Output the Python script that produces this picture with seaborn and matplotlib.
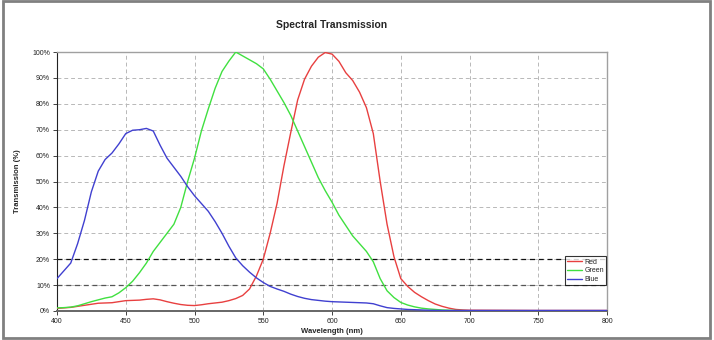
import numpy as np
import pandas as pd
import matplotlib
matplotlib.use("Agg")
import matplotlib.pyplot as plt
import seaborn as sns
from matplotlib.patches import Rectangle
from matplotlib.ticker import PercentFormatter

# wavelength (nm) and transmission (%)
wavelength = list(range(400, 705, 5)) + [750, 800]

red = [1.0, 1.2, 1.4, 1.8, 2.2, 2.6, 3.0, 3.1, 3.2, 3.6, 4.0, 4.1, 4.2, 4.5, 4.7, 4.3,
       3.6, 3.0, 2.5, 2.2, 2.1, 2.4, 2.8, 3.1, 3.4, 4.0, 4.8, 6.0, 8.5, 13.5, 20.0,
       30.0, 41.5, 56.0, 69.0, 81.5, 89.5, 94.5, 98.0, 99.8, 99.2, 96.4, 92.0, 89.0,
       84.5, 78.5, 68.5, 50.0, 33.5, 21.0, 12.5, 9.5, 7.2, 5.5, 4.0, 2.7, 1.8, 1.1,
       0.6, 0.4, 0.3, 0.2, 0.2]

green = [1.2, 1.3, 1.5, 2.0, 2.8, 3.6, 4.3, 5.0, 5.5, 7.0, 9.0, 11.5, 14.8, 18.5, 23.0,
         26.5, 30.0, 33.5, 40.0, 50.0, 59.0, 69.5, 78.0, 86.0, 92.5, 96.5, 100.0, 98.5,
         97.0, 95.5, 93.5, 89.5, 85.0, 80.5, 75.5, 69.5, 63.5, 57.5, 51.5, 46.5, 42.0,
         37.0, 33.0, 29.0, 26.0, 23.0, 19.0, 12.5, 7.8, 5.2, 3.3, 2.3, 1.6, 1.1, 0.8,
         0.6, 0.4, 0.3, 0.2, 0.15, 0.1, 0.1, 0.1]

blue = [12.5, 15.5, 18.5, 26.0, 35.0, 46.0, 54.0, 58.5, 61.0, 64.5, 68.5, 69.8, 70.0,
        70.5, 69.5, 64.0, 59.0, 55.5, 52.0, 48.0, 44.5, 41.5, 38.5, 34.5, 30.0, 25.0,
        20.5, 17.5, 15.0, 12.8, 11.0, 9.5, 8.5, 7.6, 6.5, 5.6, 4.9, 4.4, 4.1, 3.8, 3.6,
        3.5, 3.4, 3.3, 3.2, 3.1, 2.8, 2.0, 1.3, 1.0, 0.8, 0.6, 0.5, 0.4, 0.3, 0.25, 0.2,
        0.2, 0.2, 0.2, 0.2, 0.2, 0.2]

df = pd.DataFrame({"Wavelength": wavelength, "Red": red, "Green": green, "Blue": blue})
long_df = df.melt(id_vars="Wavelength", var_name="Channel", value_name="Transmission")

sns.set_style("white")
plt.rcParams["font.family"] = ["Liberation Sans", "DejaVu Sans"]

fig = plt.figure(figsize=(7.14, 3.40), dpi=100)
ax = fig.add_axes([0.0798, 0.0853, 0.7705, 0.7617])

# grid
for v in range(10, 100, 10):
    ax.axhline(v, color="#b8b8b8", lw=0.7, dashes=(4, 3), zorder=1)
for v in range(450, 800, 50):
    ax.axvline(v, color="#b8b8b8", lw=0.7, dashes=(4, 3), zorder=1)
ax.axhline(20, color="#111111", lw=0.9, dashes=(4, 3), zorder=2)
ax.axhline(10, color="#555555", lw=0.9, dashes=(4, 3), zorder=2)

sns.lineplot(data=long_df, x="Wavelength", y="Transmission", hue="Channel",
             palette={"Red": "#e84040", "Green": "#40e040", "Blue": "#4040d0"},
             linewidth=1.0, ax=ax, zorder=3)

ax.set_xlim(400, 800)
ax.set_ylim(0, 100)
ax.set_xticks(range(400, 801, 50))
ax.set_yticks(range(0, 101, 10))
ax.yaxis.set_major_formatter(PercentFormatter(decimals=0))
ax.tick_params(axis="both", labelsize=5, length=3, width=0.6, colors="#222222",
               direction="out", pad=2)
ax.tick_params(axis="y", left=True)
ax.tick_params(axis="x", bottom=True)

ax.set_xlabel("Wavelength (nm)", fontsize=5.5, fontweight="bold", labelpad=2)
ax.set_ylabel("Transmission (%)", fontsize=5.5, fontweight="bold", labelpad=8)
ax.set_title("Spectral Transmission", fontsize=7.5, fontweight="bold", pad=17)

for s in ["top", "right"]:
    ax.spines[s].set_color("#a0a0a0")
    ax.spines[s].set_linewidth(1.0)
ax.spines["left"].set_color("#222222")
ax.spines["left"].set_linewidth(0.8)
ax.spines["bottom"].set_color("#666666")
ax.spines["bottom"].set_linewidth(1.4)

leg = ax.legend(loc="lower right", bbox_to_anchor=(0.9985, 0.1), fontsize=5,
                frameon=True, fancybox=False, handlelength=2.2, handletextpad=0.3,
                borderpad=0.3, labelspacing=0.25, borderaxespad=0)
leg.get_frame().set_edgecolor("black")
leg.get_frame().set_linewidth(0.8)

fig.patches.append(Rectangle((0.004, 0.006), 0.991, 0.99, transform=fig.transFigure,
                             fill=False, edgecolor="#808080", linewidth=2))

fig.savefig("out.png", dpi=100)
plt.close(fig)
